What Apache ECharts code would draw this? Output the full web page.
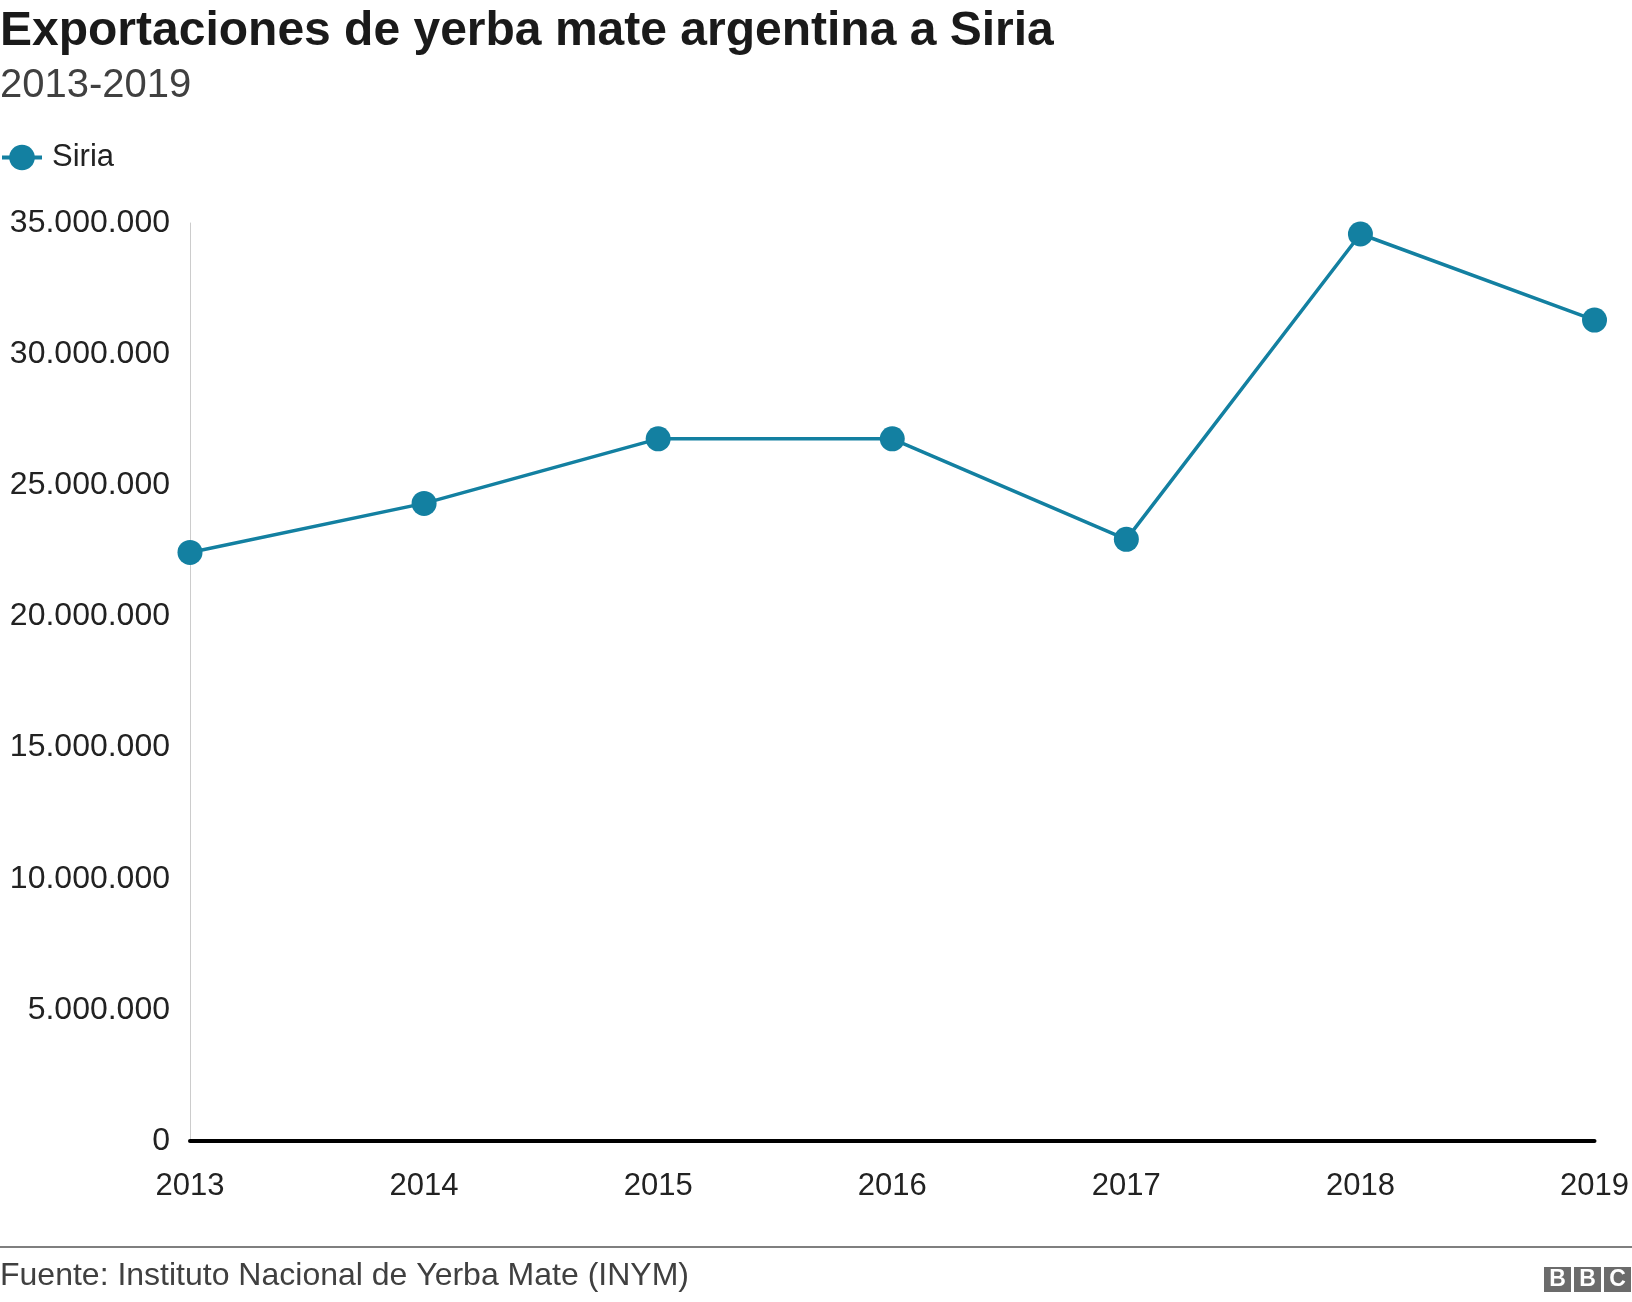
<!DOCTYPE html>
<html>
<head>
<meta charset="utf-8">
<script src="https://cdn.jsdelivr.net/npm/echarts@6/dist/echarts.min.js"></script>
<style>
html,body{margin:0;padding:0;background:#fff;}
#chart{width:1632px;height:1302px;}
</style>
</head>
<body>
<div id="chart"></div>
<script>
const titleText = 'Exportaciones de yerba mate argentina a Siria';
const subtitleText = '2013-2019';
const sourceText = 'Fuente: Instituto Nacional de Yerba Mate (INYM)';
const seriesName = 'Siria';
const years = ['2013', '2014', '2015', '2016', '2017', '2018', '2019'];
const siriaValues = [22440000, 24310000, 26770000, 26770000, 22940000, 34580000, 31300000];
const yMin = 0;
const yMax = 35000000;
const yInterval = 5000000;

function fmt(v) {
  return String(Math.round(v)).replace(/\B(?=(\d{3})+(?!\d))/g, '.');
}

const FONT = '"Liberation Sans", Arial, Helvetica, sans-serif';
const chart = echarts.init(document.getElementById('chart'), null, {renderer: 'canvas'});

const logoLetters = ['B', 'B', 'C'];
const logoGraphics = [];
logoLetters.forEach((ch, i) => {
  const x = 1544 + i * 30;
  logoGraphics.push({
    type: 'rect', shape: {x: x, y: 1267, width: 27, height: 25},
    style: {fill: '#6b6b6b'}
  });
  logoGraphics.push({
    type: 'text', x: x + 13.5, y: 1280,
    style: {text: ch, fill: '#fff', font: 'bold 23px ' + FONT, textAlign: 'center', textVerticalAlign: 'middle'}
  });
});

chart.setOption({
  animation: false,
  backgroundColor: '#fff',
  title: [
    {
      text: titleText, left: 0, top: 6, padding: 0,
      textStyle: {fontFamily: FONT, fontSize: 48, fontWeight: 'bold', color: '#1a1a1a', lineHeight: 52}
    },
    {
      text: subtitleText, left: 0, top: 63, padding: 0,
      textStyle: {fontFamily: FONT, fontSize: 40, fontWeight: 'normal', color: '#404040', lineHeight: 46}
    }
  ],
  legend: {
    left: 0, top: 142, padding: 0,
    itemWidth: 40, itemHeight: 32, itemGap: 20,
    lineStyle: {width: 4},
    textStyle: {fontFamily: FONT, fontSize: 31, color: '#222', padding: [0, 0, 0, 5]},
    data: [seriesName]
  },
  grid: {left: 190, right: 37, top: 223, bottom: 161, containLabel: false},
  xAxis: {
    type: 'category', data: years, boundaryGap: false,
    axisLine: {show: true, lineStyle: {color: '#000', width: 4}},
    axisTick: {show: false},
    axisLabel: {fontFamily: FONT, fontSize: 31, color: '#222', margin: 30, interval: 0},
    splitLine: {show: false}
  },
  yAxis: {
    type: 'value', min: yMin, max: yMax, interval: yInterval,
    axisLine: {show: true, lineStyle: {color: '#cccccc', width: 1}},
    axisTick: {show: false},
    splitLine: {show: false},
    axisLabel: {fontFamily: FONT, fontSize: 32, color: '#222', margin: 20, formatter: fmt}
  },
  series: [{
    name: seriesName, type: 'line', data: siriaValues,
    symbol: 'circle', symbolSize: 25, showSymbol: true,
    itemStyle: {color: '#1380A1'},
    lineStyle: {color: '#1380A1', width: 3.5},
    z: 5
  }],
  graphic: [
    {type: 'line', shape: {x1: 0, y1: 1247, x2: 1632, y2: 1247}, style: {stroke: '#7f7f7f', lineWidth: 2}},
    {type: 'text', x: 0, y: 1276, style: {text: sourceText, fill: '#404040', font: '32px ' + FONT, textVerticalAlign: 'middle'}}
  ].concat(logoGraphics)
});
</script>
</body>
</html>
